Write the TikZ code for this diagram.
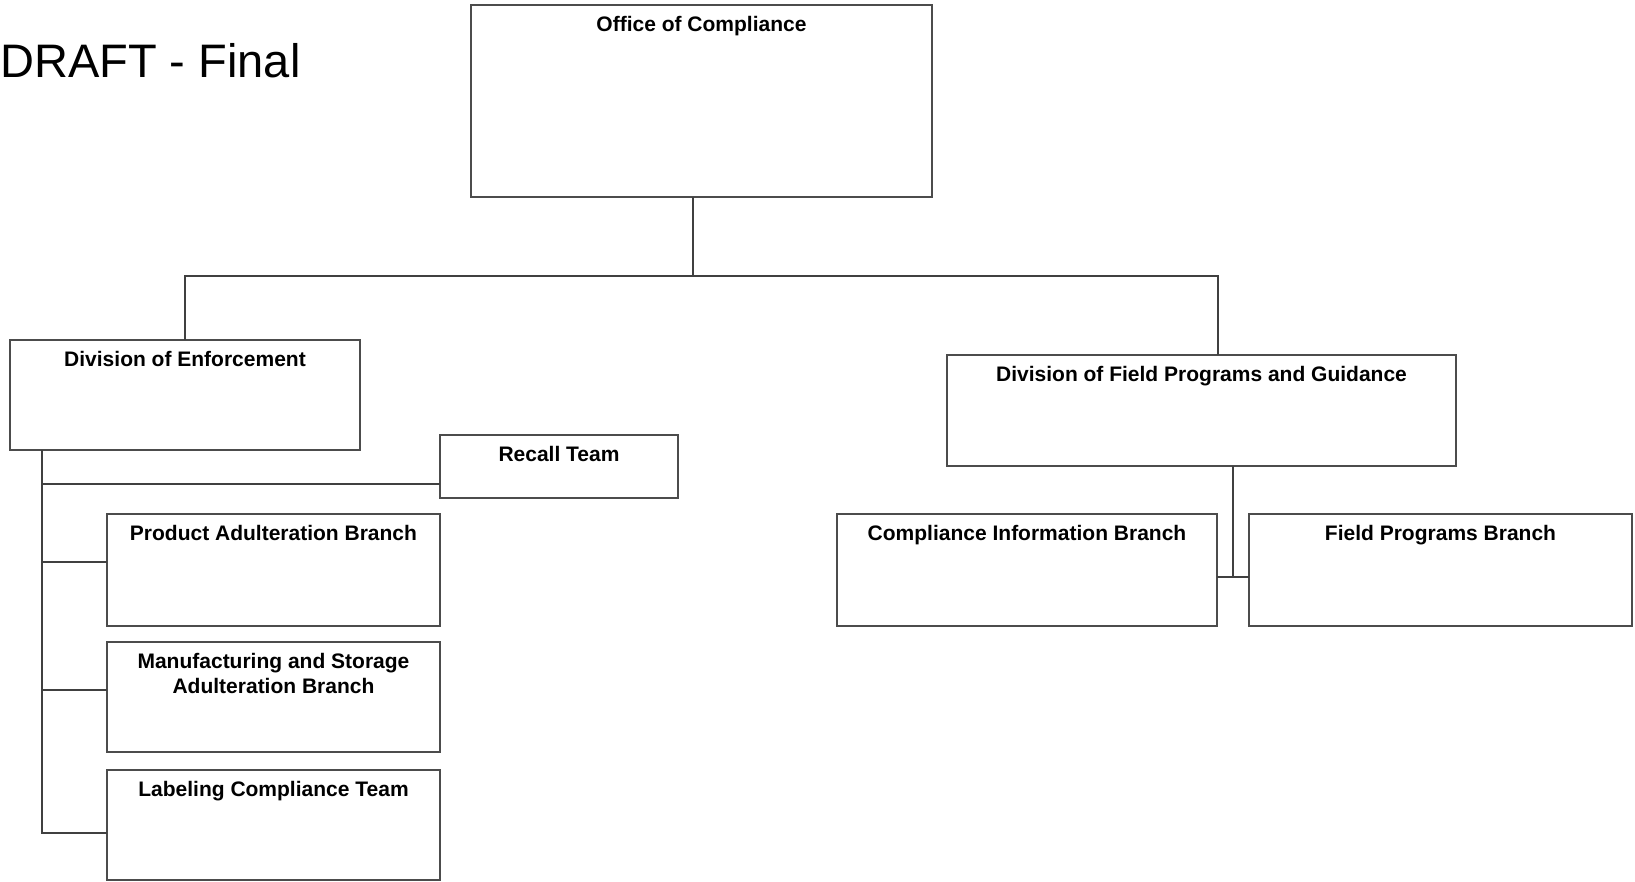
\documentclass[tikz,border=0pt]{standalone}
\usepackage{fontspec}
\setmainfont{Liberation Sans}
\usepackage{tikz}
\usetikzlibrary{positioning, calc}

\begin{document}
\begin{tikzpicture}[x=1pt, y=-1pt,
    unit/.style 2 args={draw=black!70, line width=1.3pt, minimum width=#1, minimum height=#2, inner sep=0pt, outer sep=0pt},
    title/.style={label={[anchor=north, yshift=-11pt, inner sep=0pt, align=center, font=\fontsize{21}{25}\selectfont\bfseries]north:#1}},
    link/.style={draw=black!75, line width=1.1pt}]
    \useasboundingbox (0,0) rectangle (1635,882);
    \node[anchor=base west, inner sep=0pt, font=\fontsize{47}{56}\selectfont] (draft) at (0,78) {DRAFT - Final};
    \node[unit={461pt}{192pt}, title={Office of Compliance}] (office) at (701.5,101) {};
    \node[unit={350pt}{110pt}, title={Division of Enforcement}] (enf) at (185,395) {};
    \node[unit={509pt}{111pt}, title={Division of Field Programs and Guidance}] (field) at (1201.5,410.5) {};
    \node[unit={238pt}{63pt}, title={Recall Team}] (recall) at (559,466.5) {};
    \node[unit={333pt}{112pt}, title={Product Adulteration Branch}] (product) at (273.5,570) {};
    \node[unit={333pt}{110pt}, title={{Manufacturing and Storage\\Adulteration Branch}}, below=16pt of product] (manuf) {};
    \node[unit={333pt}{110pt}, title={Labeling Compliance Team}, below=18pt of manuf] (labeling) {};
    \node[unit={380pt}{112pt}, title={Compliance Information Branch}] (info) at (1027,570) {};
    \node[unit={383pt}{112pt}, title={Field Programs Branch}, right=32pt of info] (fieldprog) {};
    % top level
    \coordinate (bus) at (693,276);
    \draw[link] (office.south -| bus) -- (bus);
    \draw[link] (enf.north) |- (bus) -| ([xshift=16.5pt]field.north);
    % enforcement
    \coordinate (spine) at ([xshift=32pt]enf.south west);
    \foreach \b/\s in {recall/-17.5, product/8, manuf/7, labeling/-8}
      \draw[link] (spine) |- ([yshift=\s pt]\b.west);
    % field programs
    \draw[link] ([xshift=31.5pt]field.south) |- ([yshift=-7pt]info.east);
    \draw[link] ([yshift=-7pt]info.east) -- ([yshift=-7pt]fieldprog.west);
\end{tikzpicture}
\end{document}
